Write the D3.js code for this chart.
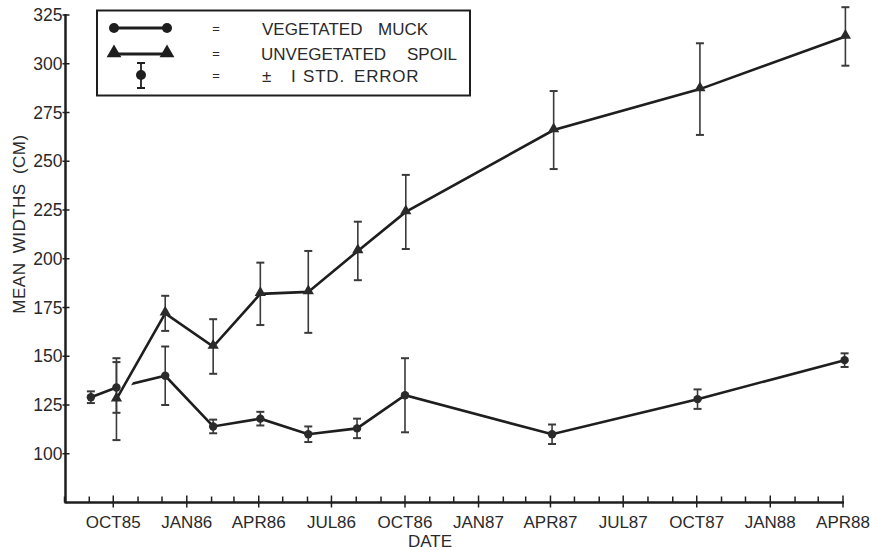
<!DOCTYPE html>
<html>
<head>
<meta charset="utf-8">
<script src="https://d3js.org/d3.v7.min.js"></script>
<style>
  body { margin: 0; background: #fff; }
  svg { display: block; }
  text { font-family: "Liberation Sans", Arial, sans-serif; fill: #2a2a2a; }
</style>
</head>
<body>
<svg id="chart" width="873" height="550"></svg>
<script>
// sampling dates
var muckDates = ["1985-09-03", "1985-10-05", "1985-12-05", "1986-02-03", "1986-04-03", "1986-06-02",
                 "1986-08-02", "1986-10-01", "1987-04-03", "1987-10-02", "1988-04-03"];
var muckMean = [129, 134, 140, 114, 118, 110, 113, 130, 110, 128, 148];
var muckErr  = [3, 13, 15, 3.5, 3.5, 4, 5, 19, 5, 5, 3.5];

var spoilDates = ["1985-10-05", "1985-12-05", "1986-02-03", "1986-04-03", "1986-06-02", "1986-08-03",
                  "1986-10-02", "1987-04-05", "1987-10-05", "1988-04-04"];
var spoilMean = [128, 172, 155, 182, 183, 204, 224, 266, 287, 314];
var spoilErr  = [21, 9, 14, 16, 21, 15, 19, 20, 23.5, 15];

var yTicks = [100, 125, 150, 175, 200, 225, 250, 275, 300, 325];

var legendItems = [["VEGETATED", "MUCK"], ["UNVEGETATED", "SPOIL"], ["±", "I", "STD.", "ERROR"]];

var parse = d3.timeParse("%Y-%m-%d");
var fmt = d3.timeFormat("%b%y");

var muck = muckDates.map(function(d, i) { return {date: parse(d), v: muckMean[i], e: muckErr[i]}; });
var spoil = spoilDates.map(function(d, i) { return {date: parse(d), v: spoilMean[i], e: spoilErr[i]}; });

var svg = d3.select("#chart");

var x0 = 65.5, y0 = 502.5;

var xScale = d3.scaleTime()
  .domain([new Date(1985, 7, 1), new Date(1988, 3, 1)])
  .range([64.5, 843]);
var yScale = d3.scaleLinear()
  .domain([75, 325])
  .range([y0, 15]);

var ink = "#1e1e1e";

// ---- axes (drawn by hand: major ticks cross the line, minor ticks point up)
var months = d3.timeMonth.range(new Date(1985, 7, 1), new Date(1988, 3, 2));
var gx = svg.append("g");
gx.append("line")
  .attr("x1", x0).attr("x2", xScale(new Date(1988, 3, 1)) + 1)
  .attr("y1", y0).attr("y2", y0)
  .attr("stroke", ink).attr("stroke-width", 2.5);
gx.selectAll(".mt").data(months).enter().append("line")
  .attr("x1", function(d) { return xScale(d); })
  .attr("x2", function(d) { return xScale(d); })
  .attr("y1", function(d) { return d.getMonth() % 3 == 0 ? y0 + 5 : y0; })
  .attr("y2", function(d) { return d.getMonth() % 3 == 0 ? y0 - 7 : y0 - 6; })
  .attr("stroke", ink).attr("stroke-width", 1.5);
gx.selectAll(".lbl").data(months.filter(function(d) { return d.getMonth() % 3 == 0; })).enter().append("text")
  .attr("x", function(d) { return xScale(d); })
  .attr("y", 528)
  .attr("text-anchor", "middle")
  .attr("font-size", 17)
  .text(function(d) { return fmt(d).toUpperCase(); });

var gy = svg.append("g");
gy.append("line")
  .attr("x1", x0).attr("x2", x0)
  .attr("y1", yScale(325) - 1).attr("y2", y0 + 1)
  .attr("stroke", ink).attr("stroke-width", 2.5);
gy.selectAll(".yt").data(yTicks).enter().append("line")
  .attr("x1", x0 - 3).attr("x2", x0 + 4)
  .attr("y1", function(d) { return yScale(d); })
  .attr("y2", function(d) { return yScale(d); })
  .attr("stroke", ink).attr("stroke-width", 1.5);
gy.selectAll(".yl").data(yTicks).enter().append("text")
  .attr("x", x0 - 3)
  .attr("y", function(d) { return yScale(d) + 6; })
  .attr("text-anchor", "end")
  .attr("font-size", 17.5)
  .text(function(d) { return d; });

svg.append("text")
  .attr("transform", "translate(25,224) rotate(-90)")
  .attr("text-anchor", "middle")
  .attr("font-size", 17)
  .attr("letter-spacing", 0.5)
  .attr("word-spacing", 4)
  .text("MEAN WIDTHS (CM)");

svg.append("text")
  .attr("x", 430).attr("y", 547)
  .attr("text-anchor", "middle")
  .attr("font-size", 17)
  .text("DATE");

// ---- lines
var line = d3.line()
  .x(function(d) { return xScale(d.date); })
  .y(function(d) { return yScale(d.v); });

svg.append("path").datum(muck)
  .attr("d", line)
  .attr("fill", "none").attr("stroke", ink).attr("stroke-width", 2.6);

// white halo so the spoil line breaks the muck line where they cross
svg.append("path").datum(spoil.slice(0, 2))
  .attr("d", line)
  .attr("fill", "none").attr("stroke", "#fff").attr("stroke-width", 12);

svg.append("path").datum(spoil)
  .attr("d", line)
  .attr("fill", "none").attr("stroke", ink).attr("stroke-width", 2.6);

// ---- error bars
function errorBars(data) {
  var g = svg.append("g").attr("stroke", "#3a3a3a").attr("stroke-width", 1.6);
  var bars = g.selectAll("g").data(data).enter().append("g");
  bars.append("line")
    .attr("x1", function(d) { return xScale(d.date); })
    .attr("x2", function(d) { return xScale(d.date); })
    .attr("y1", function(d) { return yScale(d.v + d.e); })
    .attr("y2", function(d) { return yScale(d.v - d.e); });
  [1, -1].forEach(function(s) {
    bars.append("line")
      .attr("x1", function(d) { return xScale(d.date) - 4; })
      .attr("x2", function(d) { return xScale(d.date) + 4; })
      .attr("y1", function(d) { return yScale(d.v + s * d.e); })
      .attr("y2", function(d) { return yScale(d.v + s * d.e); })
      .attr("stroke-width", 2);
  });
}
errorBars(muck);
errorBars(spoil);

// ---- markers
var tri = d3.symbol().type(d3.symbolTriangle).size(55);

svg.selectAll(".dot").data(muck).enter().append("circle")
  .attr("cx", function(d) { return xScale(d.date); })
  .attr("cy", function(d) { return yScale(d.v); })
  .attr("r", 4.2)
  .attr("fill", "#2a2a2a");

svg.selectAll(".tri").data(spoil).enter().append("path")
  .attr("d", tri)
  .attr("transform", function(d) { return "translate(" + xScale(d.date) + "," + (yScale(d.v) - 1) + ")"; })
  .attr("fill", "#2a2a2a");

// ---- legend
var lg = svg.append("g");
lg.append("rect")
  .attr("x", 97).attr("y", 10.5)
  .attr("width", 373).attr("height", 85)
  .attr("fill", "#fff").attr("stroke", ink).attr("stroke-width", 2);

var rowY = [28, 53, 75];

lg.append("line").attr("x1", 114).attr("x2", 167).attr("y1", rowY[0]).attr("y2", rowY[0])
  .attr("stroke", ink).attr("stroke-width", 3);
[114, 167].forEach(function(px) {
  lg.append("circle").attr("cx", px).attr("cy", rowY[0]).attr("r", 5).attr("fill", ink);
});

lg.append("line").attr("x1", 114).attr("x2", 167).attr("y1", rowY[1] + 1).attr("y2", rowY[1] + 1)
  .attr("stroke", ink).attr("stroke-width", 3);
[114, 167].forEach(function(px) {
  lg.append("path").attr("d", d3.symbol().type(d3.symbolTriangle).size(95))
    .attr("transform", "translate(" + px + "," + (rowY[1]) + ")").attr("fill", ink);
});

lg.append("line").attr("x1", 141).attr("x2", 141).attr("y1", 63).attr("y2", 88)
  .attr("stroke", ink).attr("stroke-width", 1.8);
[63, 88].forEach(function(py) {
  lg.append("line").attr("x1", 137).attr("x2", 145).attr("y1", py).attr("y2", py)
    .attr("stroke", ink).attr("stroke-width", 2);
});
lg.append("circle").attr("cx", 141).attr("cy", 75).attr("r", 5).attr("fill", ink);

lg.selectAll(".eq").data(rowY).enter().append("text")
  .attr("x", 216).attr("y", function(d) { return d + 5; })
  .attr("text-anchor", "middle")
  .attr("font-size", 13)
  .text("=");

// word starts and letter spacing inside each legend row
var wordX = [[262, 378], [261, 407], [262, 291, 303, 354]];
var rowSpacing = [0, 0, 0.8];

legendItems.forEach(function(words, i) {
  lg.selectAll(".w" + i).data(words).enter().append("text")
    .attr("x", function(d, j) { return wordX[i][j]; })
    .attr("y", rowY[i] + 6.5)
    .attr("font-size", 17)
    .attr("letter-spacing", rowSpacing[i])
    .text(function(d) { return d; });
});
</script>
</body>
</html>
